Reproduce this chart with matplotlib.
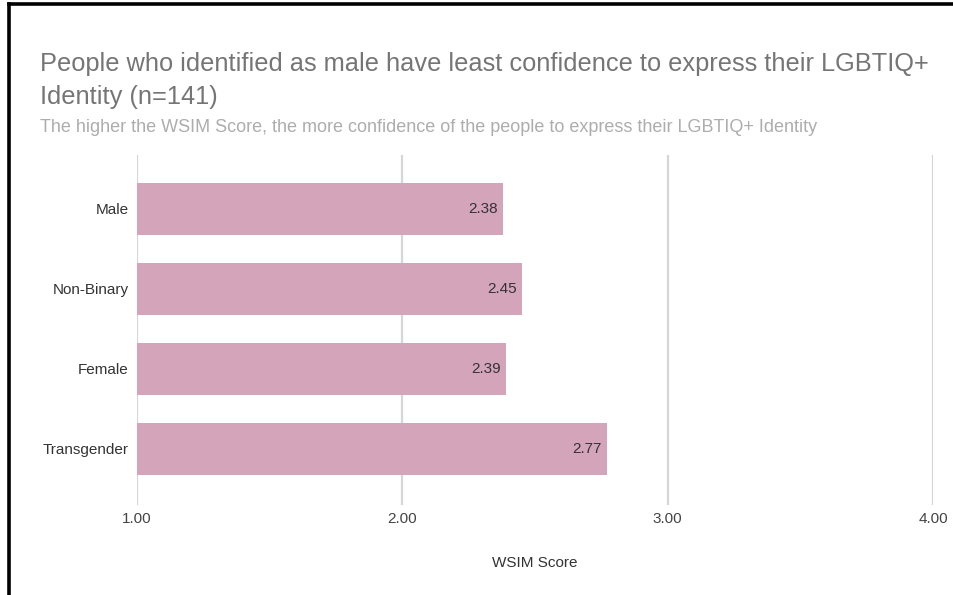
import matplotlib
matplotlib.use("Agg")
import matplotlib.pyplot as plt
from matplotlib.lines import Line2D

categories = ["Male", "Non-Binary", "Female", "Transgender"]
scores = [2.38, 2.45, 2.39, 2.77]
xticks = [1.0, 2.0, 3.0, 4.0]
xtick_labels = ["1.00", "2.00", "3.00", "4.00"]

title = "People who identified as male have least confidence to express their LGBTIQ+\nIdentity (n=141)"
subtitle = "The higher the WSIM Score, the more confidence of the people to express their LGBTIQ+ Identity"
xlabel = "WSIM Score"

plt.rcParams["font.family"] = ["Liberation Sans", "DejaVu Sans"]

fig = plt.figure(figsize=(9.54, 5.95), dpi=100)
ax = fig.add_axes([0.1436, 0.1513, 0.8344, 0.5882])

bar_color = "#d4a4ba"
pos = list(range(len(categories)))
ax.barh(pos, [s - 1.0 for s in scores], left=1.0, height=0.65,
        color=bar_color, edgecolor="none", zorder=2)

for y, s in zip(pos, scores):
    ax.text(s - 0.02, y, f"{s:.2f}", ha="right", va="center",
            fontsize=11, color="#333333", zorder=3)

ax.set_xlim(1.0, 4.0)
ax.set_ylim(3.7, -0.675)
ax.set_xticks(xticks)
ax.set_xticklabels(xtick_labels, fontsize=11, color="#444444")
ax.set_yticks(pos)
ax.set_yticklabels(categories, fontsize=11, color="#333333")
ax.tick_params(axis="both", length=0)
ax.tick_params(axis="x", pad=5)
ax.tick_params(axis="y", pad=6)

for x in xticks:
    ax.axvline(x, color="#d6d6d6", lw=1.6, zorder=1)

for sp in ax.spines.values():
    sp.set_visible(False)

ax.set_xlabel(xlabel, fontsize=11, color="#333333", labelpad=22)

fig.text(0.042, 0.913, title, fontsize=18.3, color="#757575",
         ha="left", va="top", linespacing=1.5)
fig.text(0.042, 0.785, subtitle, fontsize=13, color="#adadad",
         ha="left", va="center")

# outer frame along the top and left edges
fig.add_artist(Line2D([0.0095, 1.0], [1 - 4 / 595, 1 - 4 / 595],
                      transform=fig.transFigure, color="black", lw=2.6))
fig.add_artist(Line2D([0.0095, 0.0095], [0.0, 1 - 4 / 595],
                      transform=fig.transFigure, color="black", lw=2.6))

fig.savefig("out.png", dpi=100, facecolor="white")
